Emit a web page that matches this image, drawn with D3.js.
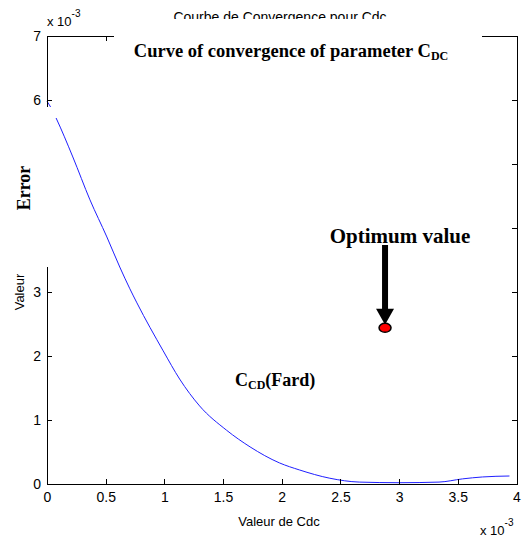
<!DOCTYPE html>
<html><head><meta charset="utf-8">
<script src="https://cdn.jsdelivr.net/npm/d3@7"></script>
<style>
body{margin:0;background:#fff;}
svg{display:block;}
.ax path,.ax line{stroke:#000;stroke-width:1;shape-rendering:crispEdges;}
.ax text{font-family:"Liberation Sans",Arial,sans-serif;font-size:14px;fill:#000;}
.ms{font-family:"Liberation Sans",Arial,sans-serif;fill:#000;}
.tb{font-family:"Liberation Serif","Times New Roman",serif;font-weight:bold;fill:#000;}
</style></head>
<body>
<svg id="c" width="524" height="539"></svg>
<script>
// data (x in units of 1e-3, y in units of 1e-3)
const cdc = [0, 0.04, 0.077, 0.22, 0.366, 0.51, 0.62, 0.706, 0.766, 0.99, 1.13, 1.30, 1.53, 1.73, 1.98, 2.15, 2.41, 2.66, 3.0, 3.34, 3.54, 3.71, 3.94];
const err = [5.98, 5.86, 5.72, 5.11, 4.44, 3.86, 3.39, 3.05, 2.83, 2.08, 1.64, 1.22, 0.84, 0.58, 0.33, 0.22, 0.09, 0.03, 0.02, 0.03, 0.08, 0.11, 0.125];
const optimum = [2.88, 2.44];
const xTicks = [0, 0.5, 1, 1.5, 2, 2.5, 3, 3.5, 4];
const yTicks = [0, 1, 2, 3, 4, 5, 6, 7];

const svg = d3.select("#c");
const L = 47, R = 516.5, T = 36, B = 484;
const x = d3.scaleLinear().domain([0, 4]).range([L, R]);
const y = d3.scaleLinear().domain([0, 7]).range([B, T]);
const fmt = d3.format("~g");

// curve
svg.append("path")
  .datum(cdc.map((d, i) => [d, err[i]]))
  .attr("fill", "none").attr("stroke", "#1f1fff").attr("stroke-width", 1)
  .attr("d", d3.line().curve(d3.curveMonotoneX).x(d => x(d[0])).y(d => y(d[1])));

// axes
svg.append("g").attr("class", "ax").attr("transform", `translate(0,${B})`)
  .call(d3.axisBottom(x).tickValues(xTicks).tickFormat(fmt).tickSizeInner(-5).tickSizeOuter(0).tickPadding(8));
svg.append("g").attr("class", "ax").attr("transform", `translate(0,${T})`)
  .call(d3.axisTop(x).tickValues(xTicks).tickFormat("").tickSizeInner(-5).tickSizeOuter(0));
svg.append("g").attr("class", "ax").attr("transform", `translate(${L},0)`)
  .call(d3.axisLeft(y).tickValues(yTicks).tickFormat(fmt).tickSizeInner(-5).tickSizeOuter(0).tickPadding(6));
svg.append("g").attr("class", "ax").attr("transform", `translate(${R},0)`)
  .call(d3.axisRight(y).tickValues(yTicks).tickFormat("").tickSizeInner(-5).tickSizeOuter(0));

// MATLAB labels
svg.append("text").attr("class", "ms").attr("x", 280).attr("y", 22).attr("text-anchor", "middle")
  .attr("font-size", 14).text("Courbe de Convergence pour Cdc");
svg.append("text").attr("class", "ms").attr("x", 279).attr("y", 526).attr("text-anchor", "middle")
  .attr("font-size", 13).text("Valeur de Cdc");
svg.append("text").attr("class", "ms").attr("transform", "translate(24,292) rotate(-90)").attr("text-anchor", "middle")
  .attr("font-size", 13).text("Valeur");
const ex1 = svg.append("text").attr("class", "ms").attr("x", 47).attr("y", 26).attr("font-size", 13);
ex1.append("tspan").text("x 10");
ex1.append("tspan").attr("dy", -9).attr("font-size", 10).text("-3");
const ex2 = svg.append("text").attr("class", "ms").attr("x", 480).attr("y", 535).attr("font-size", 13);
ex2.append("tspan").text("x 10");
ex2.append("tspan").attr("dy", -9).attr("font-size", 10).text("-3");

// pasted-over white boxes
svg.append("rect").attr("x", 114).attr("y", 19).attr("width", 368).attr("height", 27).attr("fill", "#fff");
svg.append("rect").attr("x", 0).attr("y", 107).attr("width", 54).attr("height", 160).attr("fill", "#fff");
svg.append("rect").attr("x", 0).attr("y", 107).attr("width", 58).attr("height", 11).attr("fill", "#fff");

// annotations
const t1 = svg.append("text").attr("class", "tb").attr("x", 291).attr("y", 57).attr("text-anchor", "middle").attr("font-size", 18.5);
t1.append("tspan").text("Curve of convergence of parameter C");
t1.append("tspan").attr("font-size", 12).attr("dy", 3).text("DC");

svg.append("text").attr("class", "tb").attr("transform", "translate(30,188) rotate(-90)").attr("text-anchor", "middle")
  .attr("font-size", 18).text("Error");

svg.append("text").attr("class", "tb").attr("x", 400).attr("y", 243).attr("text-anchor", "middle")
  .attr("font-size", 21).text("Optimum value");

const t2 = svg.append("text").attr("class", "tb").attr("x", 235).attr("y", 386).attr("font-size", 18);
t2.append("tspan").text("C");
t2.append("tspan").attr("font-size", 12).attr("dy", 3).text("CD");
t2.append("tspan").attr("dy", -3).text("(Fard)");

// arrow
const ox = x(optimum[0]), oy = y(optimum[1]);
svg.append("rect").attr("x", ox - 3).attr("y", 245).attr("width", 6).attr("height", oy - 18 - 245).attr("fill", "#000");
svg.append("path").attr("d", `M${ox - 9},${oy - 19} L${ox + 9},${oy - 19} L${ox},${oy - 3} Z`).attr("fill", "#000");
svg.append("ellipse").attr("cx", ox).attr("cy", oy).attr("rx", 6).attr("ry", 4.5)
  .attr("fill", "#ff0000").attr("stroke", "#000").attr("stroke-width", 1.5);
</script>
</body></html>
